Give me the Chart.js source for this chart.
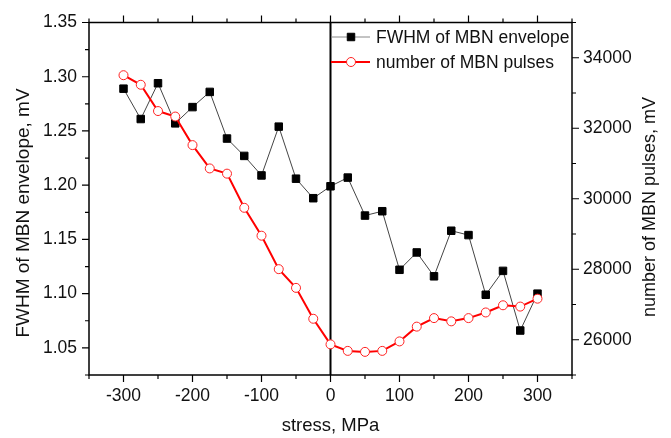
<!DOCTYPE html>
<html>
<head>
<meta charset="utf-8">
<script src="https://cdn.jsdelivr.net/npm/chart.js@4/dist/chart.umd.min.js"></script>
<style>
  html, body { margin: 0; padding: 0; background: #fff; }
  #wrap { width: 671px; height: 438px; }
</style>
</head>
<body>
<div id="wrap"><canvas id="myChart" width="671" height="438"></canvas></div>
<script>
// stress values (MPa)
const stress = [-300, -275, -250, -225, -200, -175, -150, -125, -100, -75, -50, -25, 0,
  25, 50, 75, 100, 125, 150, 175, 200, 225, 250, 275, 300];
// FWHM of MBN envelope, mV (left axis)
const fwhm = [1.289, 1.261, 1.294, 1.257, 1.272, 1.286, 1.243, 1.227, 1.209, 1.254, 1.206, 1.188, 1.199,
  1.207, 1.172, 1.176, 1.122, 1.138, 1.116, 1.158, 1.154, 1.099, 1.121, 1.066, 1.100];
// number of MBN pulses (right axis)
const pulses = [33505, 33234, 32488, 32332, 31522, 30860, 30712, 29743, 28952, 28003, 27472, 26595, 25869,
  25684, 25656, 25684, 25953, 26372, 26614, 26522, 26614, 26774, 26978, 26941, 27165];

const labelFwhm = 'FWHM of MBN envelope';
const labelPulses = 'number of MBN pulses';
const titleX = 'stress, MPa';
const titleLeft = 'FWHM of MBN envelope, mV';
const titleRight = 'number of MBN pulses, mV';

const FONT = '"Liberation Sans", Arial, sans-serif';

// frame, ticks, zero line, titles and legend
const framePlugin = {
  id: 'frame',
  beforeDatasetsDraw(chart) {
    const ctx = chart.ctx, a = chart.chartArea, x0 = chart.scales.x.getPixelForValue(0);
    ctx.save();
    ctx.strokeStyle = '#000';
    ctx.lineWidth = 2;
    ctx.beginPath();
    ctx.moveTo(x0, a.top);
    ctx.lineTo(x0, a.bottom);
    ctx.stroke();
    ctx.restore();
  },
  afterDraw(chart) {
    const ctx = chart.ctx, a = chart.chartArea;
    const sx = chart.scales.x, yl = chart.scales.y, yr = chart.scales.y2;
    ctx.save();
    ctx.strokeStyle = '#000';
    ctx.lineWidth = 1.5;
    ctx.strokeRect(a.left, a.top, a.right - a.left, a.bottom - a.top);

    ctx.lineWidth = 1.2;
    ctx.beginPath();
    sx.ticks.forEach(t => {
      const p = sx.getPixelForValue(t.value);
      const len = t.value % 100 === 0 ? 7 : 4;
      ctx.moveTo(p, a.bottom); ctx.lineTo(p, a.bottom + len);
      ctx.moveTo(p, a.top); ctx.lineTo(p, a.top - len);
    });
    yl.ticks.forEach(t => {
      const p = yl.getPixelForValue(t.value);
      const len = Math.round(t.value * 1000) % 50 === 0 ? 7 : 4;
      ctx.moveTo(a.left, p); ctx.lineTo(a.left - len, p);
    });
    yr.ticks.forEach(t => {
      const p = yr.getPixelForValue(t.value);
      const len = t.value % 2000 === 0 ? 7 : 4;
      ctx.moveTo(a.right, p); ctx.lineTo(a.right + len, p);
    });
    ctx.stroke();

    // axis titles for y axes (both read bottom to top)
    ctx.fillStyle = '#111';
    ctx.textAlign = 'center';
    ctx.textBaseline = 'middle';
    ctx.save();
    ctx.font = '19px ' + FONT;
    ctx.translate(24, 213);
    ctx.rotate(-Math.PI / 2);
    ctx.fillText(titleLeft, 0, 0);
    ctx.restore();
    ctx.save();
    ctx.font = '18px ' + FONT;
    ctx.translate(650, 207);
    ctx.rotate(-Math.PI / 2);
    ctx.fillText(titleRight, 0, 0);
    ctx.restore();

    // legend
    const rows = [
      { ds: chart.data.datasets[1], y: 37 },
      { ds: chart.data.datasets[0], y: 62 }
    ];
    ctx.font = '17.5px ' + FONT;
    ctx.textAlign = 'left';
    rows.forEach(r => {
      const ds = r.ds;
      ctx.strokeStyle = ds.legendLine;
      ctx.lineWidth = ds.borderWidth;
      ctx.beginPath();
      ctx.moveTo(331, r.y); ctx.lineTo(370, r.y);
      ctx.stroke();
      ctx.fillStyle = ds.pointBackgroundColor;
      ctx.strokeStyle = ds.pointBorderColor;
      ctx.lineWidth = ds.pointBorderWidth;
      ctx.beginPath();
      if (ds.pointStyle === 'rect') {
        const s = ds.pointRadius * Math.SQRT1_2;
        ctx.rect(351 - s, r.y - s, 2 * s, 2 * s);
      } else {
        ctx.arc(351, r.y, ds.pointRadius, 0, Math.PI * 2);
      }
      ctx.fill();
      ctx.stroke();
      ctx.fillStyle = '#111';
      ctx.fillText(ds.label, 376, r.y + 1);
    });
    ctx.restore();
  }
};

const config = {
  type: 'line',
  data: {
    datasets: [{
      label: labelPulses,
      data: stress.map((s, i) => ({ x: s, y: pulses[i] })),
      yAxisID: 'y2',
      borderColor: '#f00',
      legendLine: '#f00',
      borderWidth: 2,
      pointStyle: 'circle',
      pointRadius: 4.5,
      pointBorderWidth: 1,
      pointBackgroundColor: '#fff',
      pointBorderColor: '#f22',
      tension: 0,
      order: 0
    }, {
      label: labelFwhm,
      data: stress.map((s, i) => ({ x: s, y: fwhm[i] })),
      yAxisID: 'y',
      borderColor: '#444',
      legendLine: '#888',
      borderWidth: 1,
      pointStyle: 'rect',
      pointRadius: 5.3,
      pointBorderWidth: 1,
      pointBackgroundColor: '#000',
      pointBorderColor: '#000',
      tension: 0,
      order: 1
    }]
  },
  options: {
    responsive: false,
    animation: false,
    events: [],
    layout: { padding: { top: 17, left: 0, right: 0, bottom: 0 } },
    plugins: {
      legend: { display: false },
      tooltip: { enabled: false }
    },
    scales: {
      x: {
        type: 'linear',
        min: -350,
        max: 350,
        afterFit: s => { s.height = 63; },
        grid: { display: false, drawTicks: false },
        border: { display: false },
        ticks: {
          stepSize: 50,
          autoSkip: false,
          maxRotation: 0,
          padding: 11,
          color: '#111',
          font: { family: FONT, size: 17.5 },
          callback: v => (v % 100 === 0 && Math.abs(v) < 350) ? String(v) : ''
        },
        title: {
          display: true,
          text: titleX,
          color: '#111',
          font: { family: FONT, size: 18.5 },
          padding: { top: 0, bottom: 1 }
        }
      },
      y: {
        position: 'left',
        min: 1.025,
        max: 1.35,
        afterFit: s => { s.width = 89; },
        grid: { display: false, drawTicks: false },
        border: { display: false },
        ticks: {
          stepSize: 0.025,
          autoSkip: false,
          padding: 12,
          color: '#111',
          font: { family: FONT, size: 17.5 },
          callback: v => Math.round(v * 1000) % 50 === 0 ? v.toFixed(2) : ''
        }
      },
      y2: {
        position: 'right',
        min: 25000,
        max: 35000,
        afterFit: s => { s.width = 99; },
        grid: { display: false, drawTicks: false },
        border: { display: false },
        ticks: {
          stepSize: 1000,
          autoSkip: false,
          padding: 11,
          color: '#111',
          font: { family: FONT, size: 17.5 },
          callback: v => (v % 2000 === 0 && v > 25000 && v < 35000) ? String(v) : ''
        }
      }
    }
  },
  plugins: [framePlugin]
};

var ctx = document.getElementById('myChart').getContext('2d');
grafica = new Chart(ctx, config);
</script>
</body>
</html>
